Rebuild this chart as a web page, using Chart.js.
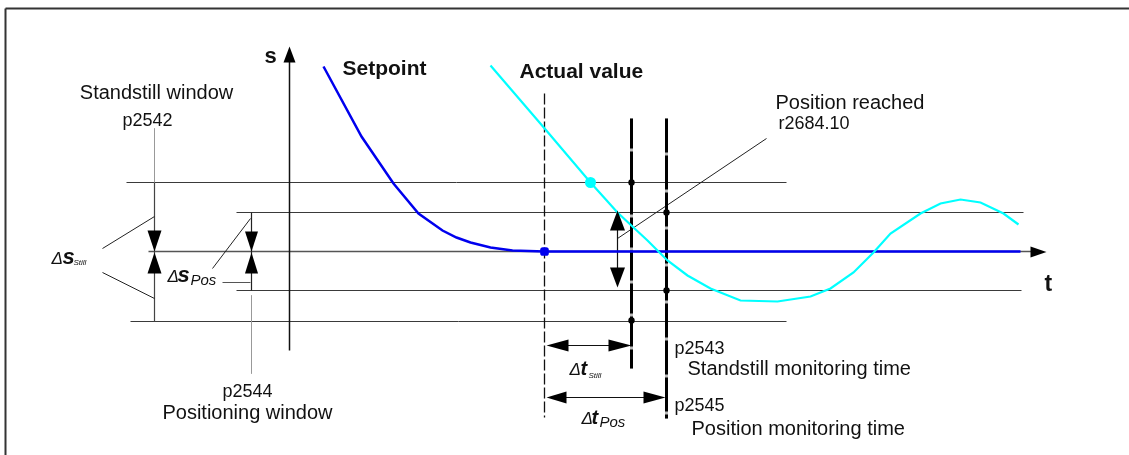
<!DOCTYPE html>
<html lang="en">
<head>
<meta charset="UTF-8">
<title>Standstill and positioning monitoring</title>
<script src="https://cdn.jsdelivr.net/npm/chart.js"></script>
<style>
  html, body { margin: 0; padding: 0; background: #fff; }
  canvas { display: block; }
</style>
</head>
<body>
<canvas id="diagram" width="1129" height="455"></canvas>
<script>
// curves (x = time, y = position, y axis runs downwards like the drawing)
const setpointT = [323, 361, 393, 418, 442, 456, 470, 490, 512, 544, 1020];
const setpointS = [66, 136, 183, 213, 230, 237, 242, 247, 250, 251, 251];
const actualT = [490, 545, 590, 617, 633, 647, 655, 667, 687, 710, 740, 777, 810, 830, 853, 873, 890, 920, 940, 960, 980, 1003, 1018];
const actualS = [65, 129, 182, 212, 227, 240, 248, 260, 275, 288, 300, 301, 296, 288, 272, 252, 233, 213, 203, 199, 202, 213, 224];

// window limits: standstill upper, pos upper, pos lower, standstill lower
const limitS = [182, 212, 290, 321];
const limitFrom = [126, 236, 236, 130];
const limitTo = [786, 1023, 1021, 786];
const targetS = 251;

// time markers: setpoint reached, standstill time over, position time over
const markerT = [544, 631, 666];
const markerTop = [93, 118, 118];
const markerBottom = [417, 368, 418];
const stillDotS = [182, 320];
const posDotS = [212, 290];

function seg(xs, ys, color, width, dash) {
    return {
        data: xs.map((x, i) => ({ x: x, y: ys[i] })),
        showLine: true,
        borderColor: color,
        borderWidth: width,
        borderDash: dash || [],
        pointRadius: 0,
        fill: false,
        tension: 0
    };
}

const datasets = [];
// frame
datasets.push(seg([5, 1129], [8, 8], '#333', 2));
datasets.push(seg([5, 5], [8, 455], '#333', 2));
// window lines
limitS.forEach((s, i) => datasets.push(seg([limitFrom[i], limitTo[i]], [s, s], '#3a3a3a', 1)));
// axes
datasets.push(seg([148, 1032], [targetS, targetS], '#555', 1.5));
datasets.push(seg([289, 289], [350, 60], '#111', 1.5));
// dimension lines for the windows + leaders
datasets.push(seg([154, 154], [128, 182], '#999', 1));
datasets.push(seg([154, 154], [182, 321], '#444', 1.2));
datasets.push(seg([251, 251], [212, 290], '#222', 1.2));
datasets.push(seg([251, 251], [295, 373], '#999', 1));
datasets.push(seg([222, 250], [282, 282], '#555', 1));
datasets.push(seg([102, 154], [248, 216], '#222', 1));
datasets.push(seg([102, 154], [272, 298], '#222', 1));
datasets.push(seg([212, 250], [268, 218], '#222', 1));
// position reached leader
datasets.push(seg([617, 766], [238, 138], '#222', 1));
datasets.push(seg([617, 617], [228, 269], '#111', 1.2));
// time markers (grey underlay, dashed black on top)
markerT.forEach((t, i) => {
    if (i > 0) datasets.push(seg([t, t], [markerTop[i], markerBottom[i]], '#bbb', 3));
});
datasets.push(seg([markerT[0], markerT[0]], [markerTop[0], markerBottom[0]], '#111', 1.3, [11, 3]));
datasets.push(seg([markerT[1], markerT[1]], [markerTop[1], markerBottom[1]], '#000', 3, [30, 3]));
datasets.push(seg([markerT[2], markerT[2]], [markerTop[2], markerBottom[2]], '#000', 3, [34, 3]));
// time dimension arrows shafts
datasets.push(seg([566, 610], [345, 345], '#111', 1.2));
datasets.push(seg([564, 645], [397, 397], '#111', 1.2));
// curves
datasets.push(seg(setpointT, setpointS, '#0000ee', 2.5));
datasets.push(seg(actualT, actualS, '#00ffff', 2.2));
// dots
datasets.push({
    data: [{ x: 590, y: 182 }],
    pointRadius: 5.5, pointBackgroundColor: '#00ffff', pointBorderWidth: 0, showLine: false
});
datasets.push({
    data: [{ x: 544, y: 251 }],
    pointRadius: 5, pointStyle: 'rectRounded', pointBackgroundColor: '#0000ee', pointBorderWidth: 0, showLine: false
});
datasets.push({
    data: stillDotS.map(s => ({ x: markerT[1], y: s })).concat(posDotS.map(s => ({ x: markerT[2], y: s }))),
    pointRadius: 3.2, pointBackgroundColor: '#000', pointBorderWidth: 0, showLine: false
});
// chart.js paints low "order" last, so keep array order = paint order
datasets.forEach((d, i) => { d.order = datasets.length - i; });

// arrow heads: tip, base, half width, orientation
const headTipX = [154, 154, 251, 251, 617, 617, 289, 1046, 546, 631, 546, 665];
const headTipY = [251, 252, 251, 252, 210, 287, 46, 251.5, 345, 345, 397, 397];
const headBase = [230, 273, 231, 273, 230, 267, 62, 1030, 568, 608, 566, 643];
const headHalf = [7, 7, 6.5, 6.5, 7.5, 7.5, 6, 5.5, 6, 6, 6, 6];
const headVertical = [true, true, true, true, true, true, true, false, false, false, false, false];

const drawExtras = {
    id: 'drawExtras',
    afterDatasetsDraw(chart) {
        const ctx = chart.ctx;
        const sx = chart.scales.x, sy = chart.scales.y;
        const X = v => sx.getPixelForValue(v);
        const Y = v => sy.getPixelForValue(v);
        ctx.save();
        ctx.fillStyle = '#000';
        headTipX.forEach((tx, i) => {
            ctx.beginPath();
            if (headVertical[i]) {
                ctx.moveTo(X(tx), Y(headTipY[i]));
                ctx.lineTo(X(tx - headHalf[i]), Y(headBase[i]));
                ctx.lineTo(X(tx + headHalf[i]), Y(headBase[i]));
            } else {
                ctx.moveTo(X(tx), Y(headTipY[i]));
                ctx.lineTo(X(headBase[i]), Y(headTipY[i] - headHalf[i]));
                ctx.lineTo(X(headBase[i]), Y(headTipY[i] + headHalf[i]));
            }
            ctx.closePath();
            ctx.fill();
        });

        const F = 'Liberation Sans, Arial, sans-serif';
        function txt(s, x, y, font, align) {
            ctx.font = font + ' ' + F;
            ctx.textAlign = align || 'left';
            ctx.textBaseline = 'alphabetic';
            ctx.fillText(s, X(x), Y(y));
        }
        ctx.fillStyle = '#111';
        txt('s', 264, 62, 'bold 22px');
        txt('t', 1044, 290, 'bold 23px');
        txt('Setpoint', 342, 74, 'bold 21px');
        txt('Actual value', 519, 77, 'bold 21px');
        txt('Standstill window', 156, 98, '20px', 'center');
        txt('p2542', 147, 125, '18px', 'center');
        txt('p2544', 247, 396, '18px', 'center');
        txt('Positioning window', 247, 418, '20px', 'center');
        txt('Position reached', 775, 108, '20px');
        txt('r2684.10', 778, 128, '18px');
        txt('p2543', 674, 353, '18px');
        txt('Standstill monitoring time', 687, 374, '20px');
        txt('p2545', 674, 410, '18px');
        txt('Position monitoring time', 691, 434, '20px');

        // delta labels
        txt('\u0394', 51, 263, 'italic 17px');
        txt('s', 62, 263, 'bold italic 22px');
        txt('Still', 73, 264, 'italic 8px');
        txt('\u0394', 167, 281, 'italic 17px');
        txt('s', 177, 281, 'bold italic 22px');
        txt('Pos', 190, 284, 'italic 15px');
        txt('\u0394', 569, 374, 'italic 17px');
        txt('t', 580, 374, 'bold italic 20px');
        txt('Still', 588, 377, 'italic 8px');
        txt('\u0394', 581, 423, 'italic 17px');
        txt('t', 591, 423, 'bold italic 20px');
        txt('Pos', 599, 426, 'italic 15px');
        ctx.restore();
    }
};

new Chart(document.getElementById('diagram'), {
    type: 'scatter',
    data: { datasets: datasets },
    options: {
        responsive: false,
        animation: false,
        events: [],
        layout: { padding: 0, autoPadding: false },
        plugins: { legend: { display: false }, tooltip: { enabled: false } },
        scales: {
            // half-pixel shift so 1px rules land on whole pixels
            x: { type: 'linear', min: -0.5, max: 1128.5, display: false },
            y: { type: 'linear', min: -0.5, max: 454.5, reverse: true, display: false }
        }
    },
    plugins: [drawExtras]
});
</script>
</body>
</html>
